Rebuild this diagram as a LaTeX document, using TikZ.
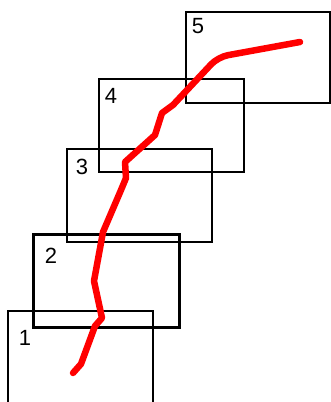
\documentclass[tikz,border=0pt]{standalone}
\usepackage{fontspec}
\setmainfont{Liberation Sans}
\usepackage{tikz}
\tikzset{
  frame/.style={draw=black, line width=1.4pt},
  thickframe/.style={draw=black, line width=3pt},
  tag/.style={font=\fontsize{22}{24}\selectfont, inner sep=0pt},
  track/.style={draw=red, line width=6.5pt, line cap=round, line join=round}
}

\begin{document}
\begin{tikzpicture}[x=1pt,y=-1pt]
			%%%%% START %%%%%
			\useasboundingbox (0, 0) rectangle (331, 402);
			
			\draw[frame] (8, 311) rectangle (153, 420);
			\node[tag] (one) at (25, 338) {1};
			
			\draw[thickframe] (33, 234) rectangle (179, 327);
			\node[tag] (two) at (51, 256) {2};
			
			\draw[frame] (67, 149) rectangle (212, 242);
			\node[tag] (three) at (82, 167) {3};
			
			\draw[frame] (99, 79) rectangle (244, 172);
			\node[tag] (four) at (111, 96) {4};
			
			\draw[frame] (186, 12) rectangle (330, 103);
			\node[tag] (five) at (198, 26) {5};
			
			\draw[track] (73, 373) -- (81, 364) -- (95, 326) -- (102, 318)
			  -- (94, 281) -- (103, 232) -- (121, 190) -- (126, 178)
			  -- (125, 162) -- (155, 135) -- (162, 113) -- (173, 105)
			  [rounded corners=10pt] -- (218, 57) -- (300, 42);
			%%%%% END %%%%%
\end{tikzpicture}
\end{document}
